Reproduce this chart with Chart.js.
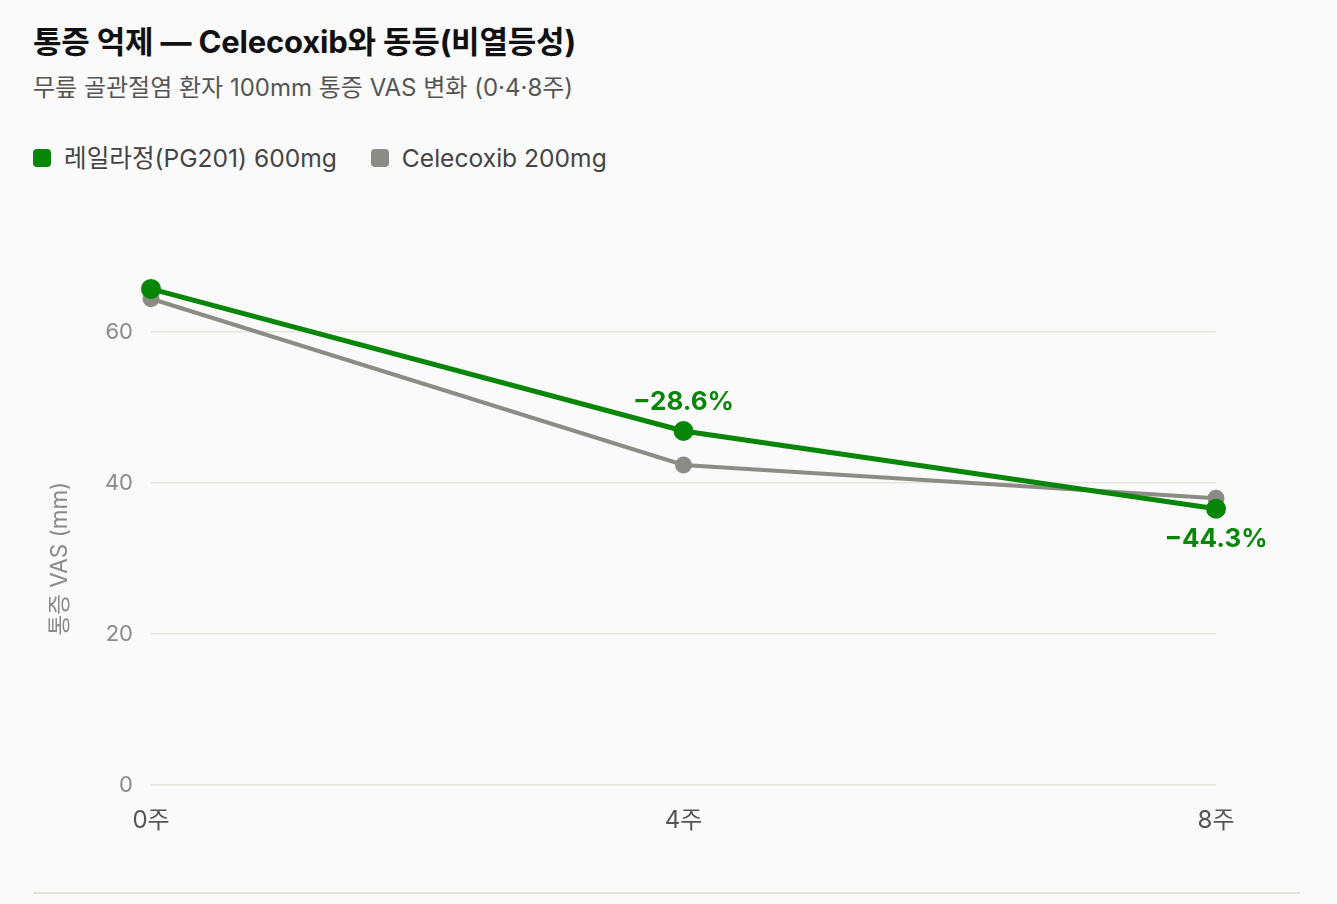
<!DOCTYPE html>
<html lang="ko">
<head>
<meta charset="utf-8">
<script src="https://cdn.jsdelivr.net/npm/chart.js@4"></script>
<style>
  html, body { margin: 0; padding: 0; background: #fafafa; }
  body { font-family: "Inter", "Noto Sans CJK KR", sans-serif; width: 1337px; height: 904px; overflow: hidden; position: relative; }
  .wrap { position: absolute; left: 33px; right: 37px; top: 0; bottom: 0; }
  h1 { position: absolute; left: 0; top: 21px; margin: 0; font-size: 31px; line-height: 42px; font-weight: 700; color: #111; letter-spacing: -0.2px; white-space: nowrap; }
  .sub { position: absolute; left: 0; top: 73px; font-size: 24px; line-height: 30px; color: #555; white-space: nowrap; }
  .legend { position: absolute; left: 0; top: 143px; display: flex; gap: 34px; font-size: 24.6px; line-height: 30px; color: #444; white-space: nowrap; }
  .legend span.item { display: flex; align-items: center; }
  .legend i { display: inline-block; width: 18px; height: 18px; border-radius: 4px; margin-right: 13px; }
  .chartbox { position: absolute; left: 0; right: 0; top: 190px; height: 680px; }
  .rule { position: absolute; left: 0; right: 0; top: 892px; height: 2px; background: #e4e4df; }
</style>
</head>
<body>
<div class="wrap">
  <h1 id="title"></h1>
  <div class="sub" id="sub"></div>
  <div class="legend" id="legend"></div>
  <div class="chartbox"><canvas id="c"></canvas></div>
  <div class="rule"></div>
</div>
<script>
const titleText = "통증 억제 — Celecoxib와 동등(비열등성)";
const subtitleText = "무릎 골관절염 환자 100mm 통증 VAS 변화 (0·4·8주)";
const weeks = ["0주", "4주", "8주"];
const pg201Values = [65.7, 46.9, 36.6];
const celecoxibValues = [64.4, 42.4, 38.0];
const pg201Changes = [null, "−28.6%", "−44.3%"];
const seriesNames = ["레일라정(PG201) 600mg", "Celecoxib 200mg"];
const seriesColors = ["#088608", "#8c8c87"];
const yTicks = [0, 20, 40, 60];
const yAxisTitle = "통증 VAS (mm)";

document.getElementById('title').textContent = titleText;
document.getElementById('sub').textContent = subtitleText;
const lg = document.getElementById('legend');
seriesNames.forEach((n, i) => {
  const s = document.createElement('span'); s.className = 'item';
  const m = document.createElement('i'); m.style.background = seriesColors[i];
  s.appendChild(m); s.appendChild(document.createTextNode(n)); lg.appendChild(s);
});

const FONT = '"Inter", "Noto Sans CJK KR", sans-serif';

// points that lie above the y-axis maximum are drawn unclipped
const outsidePoints = {
  id: 'outsidePoints',
  afterDatasetsDraw(chart) {
    const a = chart.chartArea;
    const ctx = chart.ctx;
    for (let d = chart.data.datasets.length - 1; d >= 0; d--) {
      const meta = chart.getDatasetMeta(d);
      meta.data.forEach(p => {
        const r = p.options.radius;
        if (p.y < a.top - r / 2 || p.y > a.bottom + r / 2) p.draw(ctx);
      });
    }
  }
};

const changeLabels = {
  id: 'changeLabels',
  afterDatasetsDraw(chart) {
    const ctx = chart.ctx;
    const meta = chart.getDatasetMeta(0);
    const other = chart.getDatasetMeta(1);
    ctx.save();
    ctx.font = `700 26px ${FONT}`;
    ctx.fillStyle = seriesColors[0];
    ctx.textAlign = 'center';
    ctx.textBaseline = 'middle';
    pg201Changes.forEach((t, i) => {
      if (!t) return;
      const p = meta.data[i];
      const q = other.data[i];
      const above = p.y <= q.y;
      ctx.fillText(t, p.x, above ? p.y - 29 : p.y + 30);
    });
    ctx.restore();
  }
};

new Chart(document.getElementById('c'), {
  type: 'line',
  data: {
    labels: weeks,
    datasets: [
      { label: seriesNames[0], data: pg201Values, borderColor: seriesColors[0], backgroundColor: seriesColors[0],
        borderWidth: 5, pointRadius: 10, pointHoverRadius: 10, pointBorderWidth: 0, tension: 0, clip: false },
      { label: seriesNames[1], data: celecoxibValues, borderColor: seriesColors[1], backgroundColor: seriesColors[1],
        borderWidth: 4, pointRadius: 8.5, pointHoverRadius: 8.5, pointBorderWidth: 0, tension: 0, clip: false }
    ]
  },
  options: {
    responsive: true,
    maintainAspectRatio: false,
    animation: false,
    layout: { padding: { top: 142, right: 84, bottom: 14, left: 10 } },
    plugins: { legend: { display: false }, tooltip: { enabled: false } },
    scales: {
      x: {
        offset: false,
        grid: { display: false, drawTicks: false },
        border: { display: false },
        ticks: { color: '#555', font: { family: FONT, size: 24 }, padding: 21 }
      },
      y: {
        min: 0, max: 60,
        afterBuildTicks(axis) { axis.ticks = yTicks.map(v => ({ value: v })); },
        afterFit(axis) { axis.width = 108; },
        grid: { color: '#e5e5e0', lineWidth: 1.5, drawTicks: false },
        border: { display: false },
        ticks: { color: '#8a8a8a', font: { family: FONT, size: 22 }, padding: 18 },
        title: { display: true, text: yAxisTitle, color: '#8a8a8a', font: { family: FONT, size: 22.5 }, padding: { top: 4, bottom: 4 } }
      }
    }
  },
  plugins: [outsidePoints, changeLabels]
});
</script>
</body>
</html>
